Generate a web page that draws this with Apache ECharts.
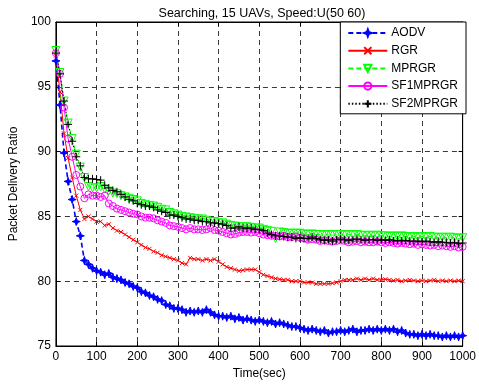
<!DOCTYPE html>
<html>
<head>
<meta charset="utf-8">
<script src="https://cdn.jsdelivr.net/npm/echarts@6/dist/echarts.min.js"></script>
<style>html,body{margin:0;padding:0;background:#fff;}#c{width:479px;height:385px;}</style>
</head>
<body>
<div id="c"></div>
<script>
var titleText = 'Searching, 15 UAVs, Speed:U(50 60)';
var xName = 'Time(sec)';
var yName = 'Packet Delivery Ratio';
var seriesNames = ['AODV', 'RGR', 'MPRGR', 'SF1MPRGR', 'SF2MPRGR'];
var xTicks = [0, 100, 200, 300, 400, 500, 600, 700, 800, 900, 1000];
var yTicks = [75, 80, 85, 90, 95, 100];

var times = [0,10,20,30,40,50,60,70,80,90,
  100,110,120,130,140,150,160,170,180,190,
  200,210,220,230,240,250,260,270,280,290,
  300,310,320,330,340,350,360,370,380,390,
  400,410,420,430,440,450,460,470,480,490,
  500,510,520,530,540,550,560,570,580,590,
  600,610,620,630,640,650,660,670,680,690,
  700,710,720,730,740,750,760,770,780,790,
  800,810,820,830,840,850,860,870,880,890,
  900,910,920,930,940,950,960,970,980,990,1000];

var aodv = [97.0, 93.6, 89.9, 87.7, 86.3, 84.6, 83.5, 81.6, 81.3, 81.0,
 80.8, 80.7, 80.5, 80.6, 80.3, 80.2, 80.1, 79.9, 79.8, 79.6,
 79.5, 79.2, 79.1, 78.9, 78.8, 78.6, 78.5, 78.2, 78.1, 77.9,
 77.9, 77.8, 77.6, 77.7, 77.6, 77.7, 77.6, 77.8, 77.6, 77.4,
 77.3, 77.3, 77.2, 77.3, 77.1, 77.2, 77.0, 77.1, 77.0, 76.9,
 77.0, 76.9, 76.8, 76.9, 76.7, 76.8, 76.7, 76.6, 76.5, 76.5,
 76.4, 76.3, 76.2, 76.3, 76.2, 76.1, 76.2, 76.0, 76.1, 76.1,
 76.2, 76.1, 76.2, 76.3, 76.1, 76.2, 76.2, 76.3, 76.2, 76.3,
 76.2, 76.3, 76.2, 76.3, 76.1, 76.2, 76.0, 75.9, 75.9, 75.8,
 75.9, 75.8, 75.9, 75.8, 75.8, 75.7, 75.8, 75.7, 75.8, 75.7, 75.8];

var rgr = [97.4, 94.6, 91.4, 89.5, 88.0, 86.6, 85.5, 84.8, 85.0, 84.8,
 84.6, 84.6, 84.3, 84.4, 84.1, 83.9, 83.8, 83.6, 83.4, 83.2,
 83.0, 82.8, 82.6, 82.5, 82.3, 82.2, 82.0, 81.9, 81.8, 81.7,
 81.6, 81.4, 81.3, 81.8, 81.7, 81.7, 81.6, 81.7, 81.6, 81.7,
 81.5, 81.3, 81.1, 81.0, 80.9, 80.8, 80.85, 80.9, 80.9, 80.9,
 80.7, 80.5, 80.4, 80.3, 80.2, 80.15, 80.1, 80.1, 80.0, 80.0,
 80.0, 79.9, 79.9, 79.9, 79.8, 79.8, 79.8, 79.8, 79.85, 79.9,
 80.0, 80.1, 80.1, 80.1, 80.2, 80.1, 80.2, 80.1, 80.2, 80.1,
 80.1, 80.15, 80.1, 80.05, 80.1, 80.0, 80.05, 80.1, 80.05, 80.0,
 80.05, 80.0, 80.05, 80.1, 80.0, 80.05, 80.0, 80.05, 80.0, 80.05, 80.0];

var mprgr = [97.8, 96.1, 93.9, 92.2, 91.0, 89.8, 88.8, 88.0, 87.3, 87.2,
 87.2, 87.3, 87.1, 86.95, 86.8, 86.75, 86.6, 86.5, 86.4, 86.3,
 86.2, 86.0, 85.9, 85.85, 85.8, 85.7, 85.55, 85.5, 85.3, 85.2,
 85.1, 85.0, 84.95, 84.9, 84.85, 84.8, 84.8, 84.7, 84.6, 84.6,
 84.5, 84.5, 84.4, 84.3, 84.25, 84.2, 84.2, 84.2, 84.15, 84.1,
 84.1, 84.0, 83.9, 83.85, 83.3, 83.8, 83.75, 83.7, 83.7, 83.7,
 83.7, 83.65, 83.6, 83.65, 83.6, 83.6, 83.55, 83.6, 83.55, 83.6,
 83.6, 83.55, 83.6, 83.55, 83.6, 83.55, 83.5, 83.55, 83.5, 83.55,
 83.5, 83.5, 83.45, 83.5, 83.45, 83.5, 83.45, 83.4, 83.45, 83.4,
 83.45, 83.4, 83.45, 83.4, 83.35, 83.4, 83.35, 83.4, 83.35, 83.3, 83.35];

var sf1mprgr = [97.6, 96.0, 93.4, 91.0, 89.6, 88.2, 87.3, 86.4, 86.7, 86.6,
 86.6, 86.5, 86.6, 86.0, 85.8, 85.6, 85.5, 85.4, 85.3, 85.2,
 85.15, 85.0, 84.9, 84.9, 84.85, 84.7, 84.6, 84.5, 84.3, 84.25,
 84.2, 84.1, 84.0, 84.1, 84.0, 84.0, 83.95, 84.0, 84.1, 83.95,
 83.9, 83.8, 83.7, 83.6, 83.65, 83.75, 83.8, 83.8, 83.75, 83.8,
 83.7, 83.6, 83.55, 83.5, 83.5, 83.45, 83.5, 83.4, 83.4, 83.45,
 83.35, 83.3, 83.2, 83.25, 83.2, 83.1, 83.15, 83.1, 83.05, 83.1,
 83.15, 83.1, 83.0, 83.05, 83.1, 83.0, 83.05, 83.0, 83.0, 83.05,
 83.0, 82.95, 83.0, 82.95, 82.9, 82.95, 82.9, 82.85, 82.9, 82.8,
 82.85, 82.8, 82.75, 82.8, 82.7, 82.75, 82.7, 82.65, 82.7, 82.6, 82.65];

var sf2mprgr = [97.6, 96.0, 93.9, 92.1, 90.8, 89.6, 88.9, 88.0, 87.9, 87.9,
 87.85, 87.8, 87.4, 87.2, 87.0, 86.9, 86.7, 86.5, 86.3, 86.2,
 86.0, 85.9, 85.8, 85.8, 85.7, 85.5, 85.4, 85.3, 85.1, 85.1,
 85.0, 84.9, 84.8, 84.8, 84.7, 84.7, 84.6, 84.6, 84.5, 84.5,
 84.45, 84.4, 84.3, 84.1, 84.1, 84.2, 84.1, 84.1, 84.1, 84.0,
 84.0, 83.9, 83.7, 83.6, 83.5, 83.5, 83.45, 83.4, 83.4, 83.3,
 83.35, 83.3, 83.3, 83.4, 83.3, 83.2, 83.15, 83.2, 83.1, 83.2,
 83.25, 83.2, 83.15, 83.2, 83.25, 83.2, 83.15, 83.2, 83.2, 83.15,
 83.2, 83.15, 83.2, 83.1, 83.15, 83.1, 83.15, 83.1, 83.05, 83.1,
 83.05, 83.1, 83.05, 83.0, 83.05, 83.0, 83.0, 82.95, 83.0, 82.9, 82.95];

function pairs(vals) { return vals.map(function (v, i) { return [times[i], v]; }); }

var FONT = '"Liberation Sans", Arial, sans-serif';
var chart = echarts.init(document.getElementById('c'), null, { renderer: 'canvas' });

var seriesDefs = [
  { name: seriesNames[0], data: aodv, color: '#0000ff', line: [5, 3], width: 1.6,
    symbol: 'path://M0,-5 L1.3,-1.3 L5,0 L1.3,1.3 L0,5 L-1.3,1.3 L-5,0 L-1.3,-1.3 Z', size: 8, fill: true },
  { name: seriesNames[1], data: rgr, color: '#ff0000', line: 'solid', width: 1,
    symbol: 'path://M-1,-1 L1,1 M-1,1 L1,-1', size: 4, fill: false },
  { name: seriesNames[2], data: mprgr, color: '#00ff00', line: [5, 3], width: 1,
    symbol: 'path://M-1,-0.8 L1,-0.8 L0,1 Z', size: 8, fill: false },
  { name: seriesNames[3], data: sf1mprgr, color: '#ff00ff', line: 'solid', width: 1,
    symbol: 'circle', size: 7, fill: false },
  { name: seriesNames[4], data: sf2mprgr, color: '#000000', line: [1.5, 2], width: 1,
    symbol: 'path://M0,-1 L0,1 M-1,0 L1,0', size: 8, fill: false }
];

var series = seriesDefs.map(function (d) {
  return {
    name: d.name,
    type: 'line',
    xAxisIndex: 0,
    yAxisIndex: 0,
    data: pairs(d.data),
    symbol: d.symbol,
    symbolSize: d.size,
    showSymbol: true,
    animation: false,
    lineStyle: { color: d.color, width: d.width, type: d.line },
    itemStyle: { color: d.fill ? d.color : 'transparent', borderColor: d.color, borderWidth: 1 },
    emphasis: { disabled: true }
  };
});

var gridLine = { show: true, lineStyle: { color: '#222', width: 0.9, type: [5, 4] } };
function plain(v) { return String(v); }

chart.setOption({
  backgroundColor: '#fff',
  animation: false,
  textStyle: { fontFamily: FONT },
  title: {
    text: titleText, left: 257, textAlign: 'center', top: 2,
    textStyle: { fontFamily: FONT, fontSize: 12.5, fontWeight: 'normal', color: '#000' }
  },
  legend: {
    orient: 'vertical', right: 13, top: 22,
    backgroundColor: '#fff', borderColor: '#000', borderWidth: 1,
    padding: [5, 8, 4, 7],
    itemWidth: 39, itemHeight: 9, itemGap: 5.7,
    align: 'left',
    textStyle: { fontFamily: FONT, fontSize: 12, color: '#000', lineHeight: 12, padding: [0, 0, 0, -1] },
    data: seriesNames
  },
  grid: { left: 50, right: 13, top: 22, bottom: 38, show: true, borderColor: '#000', borderWidth: 1, backgroundColor: 'transparent' },
  xAxis: [{
    type: 'value', min: xTicks[0], max: xTicks[xTicks.length - 1], interval: 100,
    name: xName, nameLocation: 'middle', nameGap: 22,
    nameTextStyle: { fontFamily: FONT, fontSize: 12, color: '#000' },
    axisLine: { show: true, onZero: false, lineStyle: { color: '#000', width: 1 } },
    axisTick: { show: true, inside: true, length: 4, lineStyle: { color: '#000' } },
    axisLabel: { fontFamily: FONT, fontSize: 12, color: '#000', margin: 5, formatter: plain },
    splitLine: gridLine
  }, {
    type: 'value', position: 'top', min: xTicks[0], max: xTicks[xTicks.length - 1], interval: 100,
    axisLine: { show: true, onZero: false, lineStyle: { color: '#000' } },
    axisTick: { show: true, inside: true, length: 4, lineStyle: { color: '#000' } },
    axisLabel: { show: false }, splitLine: { show: false }
  }],
  yAxis: [{
    type: 'value', min: yTicks[0], max: yTicks[yTicks.length - 1], interval: 5,
    name: yName, nameLocation: 'middle', nameGap: 33, nameRotate: 90,
    nameTextStyle: { fontFamily: FONT, fontSize: 12, color: '#000' },
    axisLine: { show: true, onZero: false, lineStyle: { color: '#000', width: 1 } },
    axisTick: { show: true, inside: true, length: 4, lineStyle: { color: '#000' } },
    axisLabel: { fontFamily: FONT, fontSize: 12, color: '#000', margin: 5, formatter: plain },
    splitLine: gridLine
  }, {
    type: 'value', position: 'right', min: yTicks[0], max: yTicks[yTicks.length - 1], interval: 5,
    axisLine: { show: true, onZero: false, lineStyle: { color: '#000' } },
    axisTick: { show: true, inside: true, length: 4, lineStyle: { color: '#000' } },
    axisLabel: { show: false }, splitLine: { show: false }
  }],
  series: series
});
</script>
</body>
</html>
